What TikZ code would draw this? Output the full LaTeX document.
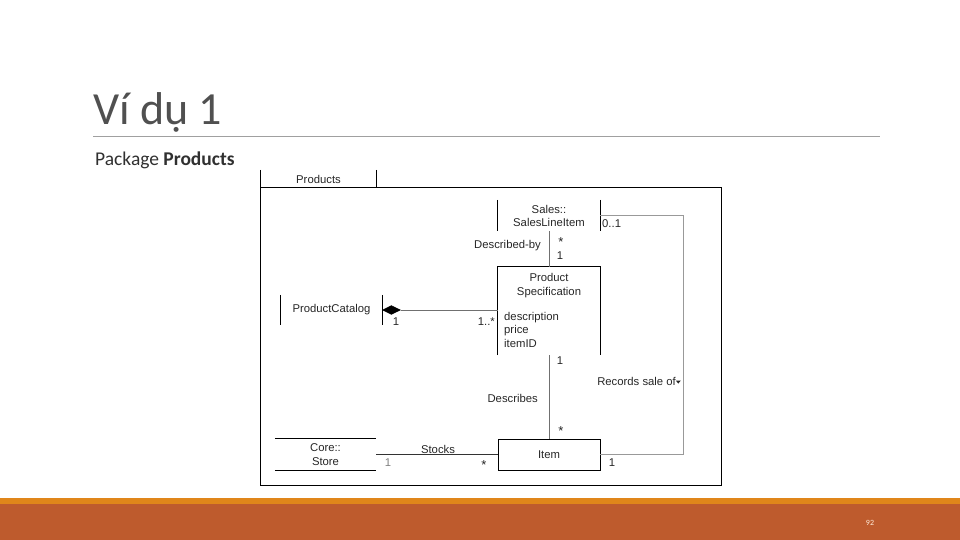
\documentclass[tikz,border=0pt]{standalone}
\usepackage{fontspec}
\setmainfont{Carlito}
\newfontfamily\arialf{Liberation Sans}
\usetikzlibrary{shapes.geometric}
\definecolor{titlegray}{HTML}{505050}
\definecolor{subgray}{HTML}{303030}
\definecolor{rulegray}{HTML}{A0A0A0}
\definecolor{barorange}{HTML}{E0861A}
\definecolor{barrust}{HTML}{BE5B2D}
\definecolor{conngray}{HTML}{707070}
\begin{document}
\begin{tikzpicture}[x=1pt,y=-1pt,
  uml/.style={font=\arialf\fontsize{11.3}{13.5}\selectfont, inner sep=0pt, align=center, text=black!85},
  star/.style={uml, font=\arialf\fontsize{13}{13}\selectfont},
  umlbox/.style={minimum width=102pt, inner sep=0pt},
  conn/.style={draw=conngray, line width=0.8pt},
  frame/.style={draw=black, line width=0.8pt}]
\useasboundingbox (0,0) rectangle (960,540);
% title area
\node[anchor=base west, inner sep=0pt, text=titlegray, font=\fontsize{46}{55}\selectfont] (title) at (93,125) {Ví dụ 1};
\coordinate (ruleL) at (93,136);
\coordinate (ruleR) at (880,136);
\draw[rulegray, line width=0.8pt] (ruleL) -- (ruleR);
\node[anchor=base west, inner sep=0pt, text=subgray, font=\fontsize{19.5}{23}\selectfont] (sub) at (95,166) {Package \textbf{Products}};
% bottom bars
\fill[barorange] (0,498) rectangle (960,504);
\fill[barrust] (0,504) rectangle (960,540);
\node[font=\fontsize{8}{9}\selectfont, text=white!85!orange, inner sep=0pt] (pg) at (870,523) {92};
% package
\node[umlbox, minimum width=115pt, minimum height=18pt] (tab) at (318.5,179) {};
\draw[frame] (tab.north west) -- (tab.south west);
\draw[frame] (tab.north east) -- (tab.south east);
\node[uml] (tabtxt) at (tab.center) {Products};
\node[umlbox, minimum width=460pt, minimum height=297pt] (pkg) at (491,336.5) {};
\draw[frame] (pkg.north west) rectangle (pkg.south east);
% Sales::SalesLineItem
\node[umlbox, minimum height=31pt] (sli) at (549,215.5) {};
\draw[frame] (sli.north west) -- (sli.south west);
\draw[frame] (sli.north east) -- (sli.south east);
\node[uml] (slitxt) at (549,216) {Sales::\\SalesLineItem};
% Product Specification
\node[umlbox, minimum height=88pt] (ps) at (549,311) {};
\draw[frame] (ps.south west) -- (ps.north west) -- (ps.north east) -- (ps.south east);
\node[uml] (pstxt) at (549,285.5) {Product\\Specification};
\node[uml, anchor=west, align=left] (psattr) at (504,329.5) {description\\price\\itemID};
% Product Catalog
\node[umlbox, minimum width=101pt, minimum height=30pt] (cat) at (331.5,310) {};
\draw[frame] (cat.north west) -- (cat.south west);
\draw[frame] (cat.north east) -- (cat.south east);
\node[uml] (cattxt) at (cat.center) {ProductCatalog};
\node[diamond, fill=black, draw=black, minimum width=18pt, minimum height=9pt, inner sep=0pt, anchor=west] (dia) at (cat.east) {};
% Item
\node[umlbox, draw=black, line width=0.8pt, minimum height=31pt] (item) at (549,454.5) {};
\node[uml] (itemtxt) at (item.center) {Item};
% Core::Store
\node[umlbox, minimum width=101pt, minimum height=31pt] (store) at (325.5,454.5) {};
\draw[frame] (store.north west) -- (store.north east);
\draw[frame] (store.south west) -- (store.south east);
\node[uml] (storetxt) at (store.center) {Core::\\Store};
% connectors
\draw[conn] (sli.south) -- (ps.north);
\draw[conn] (dia.east) -- (dia.east -| ps.west);
\draw[conn] (ps.south) -- (item.north);
\draw[conn, draw=black!80] (store.east) -- (item.west);
\coordinate (rc) at (683,330);
\draw[conn, draw=gray!80] (item.east) -| (rc) |- (sli.east);
% labels
\node[uml, anchor=west] (l01) at (602,224) {0..1};
\node[uml, anchor=east] (ldb) at (541,246) {Described-by};
\node[star] (lst1) at (561,242) {*};
\node[uml] (l1a) at (560,256) {1};
\node[uml] (l1b) at (396,322) {1};
\node[uml, anchor=east] (l1c) at (495,322) {1..*};
\node[uml] (l1d) at (560,361) {1};
\node[uml, anchor=east] (lrs) at (681,381) {Records sale of\raisebox{1.5pt}{\tikz[x=1pt,y=1pt]\fill (0,3)--(5,3)--(2.5,0)--cycle;}};
\node[uml, anchor=east] (ldes) at (538,398) {Describes};
\node[star] (lst2) at (561,431) {*};
\node[uml] (lstk) at (438,449) {Stocks};
\node[uml, text=gray] (l1e) at (388,463) {1};
\node[star] (lst3) at (484,465) {*};
\node[uml] (l1f) at (612,463) {1};
\end{tikzpicture}
\end{document}
